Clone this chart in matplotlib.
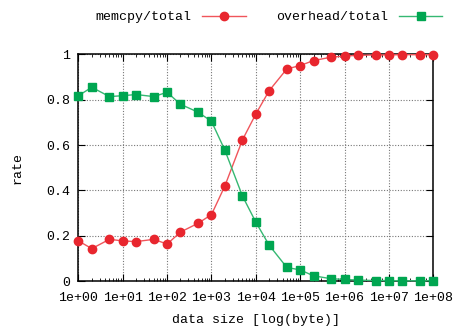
import matplotlib
matplotlib.use('Agg')
import matplotlib.pyplot as plt
from matplotlib.ticker import LogLocator, FixedLocator, FuncFormatter

# data size [byte], 1-2-5 steps
sizes = [1, 2, 5, 10, 20, 50, 100, 200, 500, 1e3, 2e3, 5e3, 1e4, 2e4, 5e4,
         1e5, 2e5, 5e5, 1e6, 2e6, 5e6, 1e7, 2e7, 5e7, 1e8]
memcpy_rate = [0.177, 0.143, 0.184, 0.177, 0.174, 0.184, 0.163, 0.216, 0.255,
               0.293, 0.419, 0.623, 0.737, 0.840, 0.936, 0.951, 0.973, 0.988,
               0.993, 0.996, 0.998, 0.998, 0.999, 0.999, 0.999]
overhead_rate = [0.818, 0.855, 0.814, 0.818, 0.823, 0.814, 0.833, 0.780, 0.745,
                 0.705, 0.578, 0.375, 0.260, 0.158, 0.060, 0.049, 0.023, 0.010,
                 0.007, 0.004, 0.002, 0.002, 0.001, 0.001, 0.001]
y_ticks = [0, 0.2, 0.4, 0.6, 0.8, 1]
y_labels = ['0', '0.2', '0.4', '0.6', '0.8', '1']

red = '#e8262e'
green = '#00a651'
font = 'Liberation Mono'
fs = 9.5

fig = plt.figure(figsize=(4.56, 3.26), dpi=100)
ax = fig.add_axes([0.172, 0.138, 0.778, 0.695])

ax.plot(sizes, memcpy_rate, color='#f0555b', lw=1, marker='o', ms=6,
        mfc=red, mec=red, clip_on=False, zorder=3, label='memcpy/total')
ax.plot(sizes, overhead_rate, color='#35b872', lw=1, marker='s', ms=6,
        mfc=green, mec=green, clip_on=False, zorder=3, label='overhead/total')

ax.set_xscale('log')
ax.set_xlim(1, 1e8)
ax.set_ylim(0, 1)
ax.xaxis.set_major_locator(LogLocator(base=10, numticks=20))
ax.xaxis.set_minor_locator(LogLocator(base=10, subs=range(2, 10), numticks=100))
ax.xaxis.set_major_formatter(FuncFormatter(lambda v, p: f'{v:.0e}'))
ax.yaxis.set_major_locator(FixedLocator(y_ticks))
ax.set_yticklabels(y_labels)

ax.grid(True, which='major', color='#777777', linestyle=(0, (1, 1.5)), lw=0.8)
ax.tick_params(which='both', direction='in', top=True, right=True,
               labelsize=fs, color='black')
ax.tick_params(which='major', length=5)
ax.tick_params(which='minor', length=2.5)
ax.tick_params(axis='x', pad=8)
ax.tick_params(axis='y', pad=6)
for lab in ax.get_xticklabels() + ax.get_yticklabels():
    lab.set_fontfamily(font)
for s in ax.spines.values():
    s.set_linewidth(1.1)

ax.set_xlabel('data size [log(byte)]', fontfamily=font, fontsize=fs, labelpad=7)
ax.set_ylabel('rate', fontfamily=font, fontsize=fs, labelpad=16)

fig.legend(loc='center', bbox_to_anchor=(0.59, 0.947), ncol=2, frameon=False,
           markerfirst=False, handlelength=3.3, handletextpad=0.8,
           columnspacing=2.3, prop={'family': font, 'size': fs})

fig.savefig('out.png', dpi=100)
